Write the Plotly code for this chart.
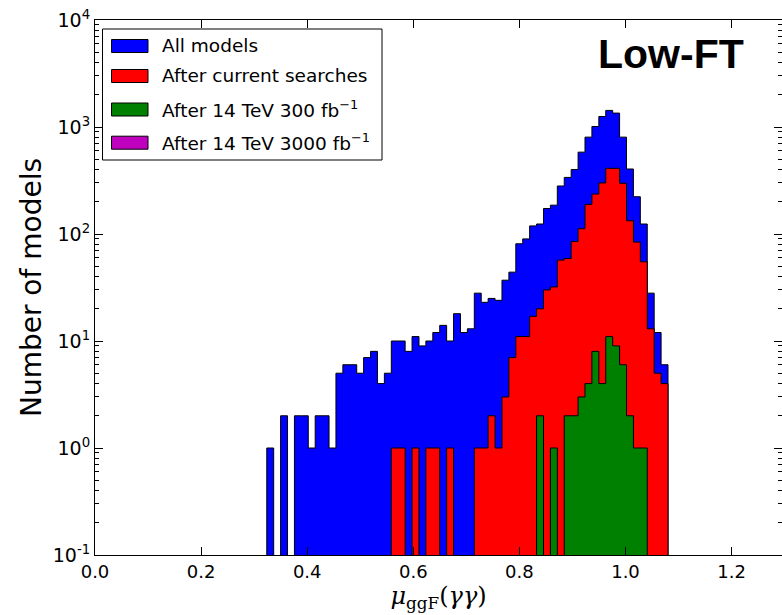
import plotly.graph_objects as go

# ---------------- data ----------------
BIN_START = 0.3238
BIN_WIDTH = 0.01304
N_BINS = 58

all_models = [1, 0, 2, 0, 2, 2, 1, 2, 2, 1,
              5, 6, 6, 5, 7, 8, 4, 5, 10, 10,
              8, 11, 9, 10, 12, 14, 10, 18, 12, 13,
              28, 23, 25, 24, 37, 44, 81, 90, 119, 124,
              173, 186, 281, 338, 400, 582, 804, 1011, 1254, 1429,
              1349, 804, 405, 223, 124, 28, 12, 6]
after_current = [0, 0, 0, 0, 0, 0, 0, 0, 0, 0,
                 0, 0, 0, 0, 0, 0, 0, 0, 1, 1,
                 0, 1, 0, 1, 1, 0, 1, 0, 0, 0,
                 1, 1, 2, 1, 3, 7, 11, 11, 17, 20,
                 30, 32, 57, 59, 85, 112, 189, 236, 300, 411,
                 411, 298, 133, 84, 55, 13, 5, 4]
after_300 = [0] * 39 + [2, 0, 1, 0, 2, 2, 3, 4, 8, 4, 11, 9, 6, 2, 1, 1, 0, 0, 0]
after_3000 = [0] * N_BINS

series_names = ["All models", "After current searches",
                "After 14 TeV 300 fb<sup>\u22121</sup>",
                "After 14 TeV 3000 fb<sup>\u22121</sup>"]
series_values = [all_models, after_current, after_300, after_3000]
series_colors = ["#0000ff", "#ff0000", "#008000", "#bf00bf"]

x_tick_vals = [0.0, 0.2, 0.4, 0.6, 0.8, 1.0, 1.2]
x_tick_text = ["0.0", "0.2", "0.4", "0.6", "0.8", "1.0", "1.2"]
y_tick_vals = [0.1, 1, 10, 100, 1000, 10000]
y_tick_text = ["10<sup>-1</sup>", "10<sup>0</sup>", "10<sup>1</sup>",
               "10<sup>2</sup>", "10<sup>3</sup>", "10<sup>4</sup>"]

# ---------------- figure ----------------
W, H = 782, 615
ML, MR, MT, MB = 95, 0, 20, 60
PW, PH = W - ML - MR, H - MT - MB

edges = [BIN_START + i * BIN_WIDTH for i in range(N_BINS + 1)]
FLOOR = 1e-3  # below visible range -> empty bins go to axis bottom


def step_polygon(counts):
    xs, ys = [edges[0]], [FLOOR]
    for i, c in enumerate(counts):
        v = c if c > 0 else FLOOR
        xs += [edges[i], edges[i + 1]]
        ys += [v, v]
    xs.append(edges[-1])
    ys.append(FLOOR)
    return xs, ys


def px(xp):
    return (xp - ML) / PW


def py(yp):
    return (H - MB - yp) / PH


fig = go.Figure()
for name, vals, col in zip(series_names, series_values, series_colors):
    xs, ys = step_polygon(vals)
    fig.add_trace(go.Scatter(
        x=xs, y=ys, mode="lines", fill="toself", fillcolor=col,
        line=dict(color="black", width=1), name=name, showlegend=False,
        hoverinfo="skip"))

font_main = "DejaVu Sans"
minor_vals = [m * 10 ** e for e in range(-1, 4) for m in range(2, 10)]

# ---- matplotlib-style legend (frame, swatches, labels) ----
shapes = [dict(type="rect", xref="paper", yref="paper",
               x0=px(102.5), x1=px(382), y0=py(160), y1=py(29),
               line=dict(color="black", width=1), fillcolor="white",
               layer="above")]
annotations = []
legend_rows = [46, 76, 109.5, 142.7]
for name, col, yc in zip(series_names, series_colors, legend_rows):
    shapes.append(dict(type="rect", xref="paper", yref="paper",
                       x0=px(111.5), x1=px(148), y0=py(yc + 6.5),
                       y1=py(yc - 6.5), fillcolor=col,
                       line=dict(color="black", width=1), layer="above"))
    annotations.append(dict(text=name, xref="paper", yref="paper",
                            x=px(160), y=py(yc - 0.5), xanchor="left",
                            yanchor="middle", showarrow=False,
                            font=dict(family=font_main, size=18.5,
                                      color="black")))

annotations.append(dict(text="<b>Low-FT</b>", xref="paper", yref="paper",
                        x=px(671), y=py(54), xanchor="center",
                        yanchor="middle", showarrow=False,
                        font=dict(family="Liberation Sans", size=41,
                                  color="black")))

fig.update_layout(
    width=W, height=H,
    margin=dict(l=ML, r=MR, t=MT, b=MB),
    paper_bgcolor="white", plot_bgcolor="white",
    font=dict(family=font_main, size=18, color="black"),
    showlegend=False,
    xaxis=dict(range=[0, 1.295], tickmode="array", tickvals=x_tick_vals,
               ticktext=x_tick_text, ticks="inside", ticklen=8,
               tickcolor="black", showline=True, linecolor="black",
               linewidth=1, mirror="ticks", showgrid=False, zeroline=False,
               tickfont=dict(family=font_main, size=18),
               title=dict(text="<i>\u03bc</i><sub>ggF</sub>(<i>\u03b3\u03b3</i>)",
                          font=dict(family="DejaVu Serif", size=24),
                          standoff=4)),
    yaxis=dict(type="log", range=[-1, 4], tickmode="array",
               tickvals=y_tick_vals, ticktext=y_tick_text, ticks="inside",
               ticklen=8, tickcolor="black", showline=True, linecolor="black",
               linewidth=1, mirror="ticks", showgrid=False, zeroline=False,
               tickfont=dict(family=font_main, size=19),
               minor=dict(tickmode="array", tickvals=minor_vals,
                          ticks="inside", ticklen=4, tickcolor="black",
                          showgrid=False),
               title=dict(text="Number of models",
                          font=dict(family=font_main, size=28),
                          standoff=2)),
    shapes=shapes,
    annotations=annotations,
)

fig.write_html("out.html")
